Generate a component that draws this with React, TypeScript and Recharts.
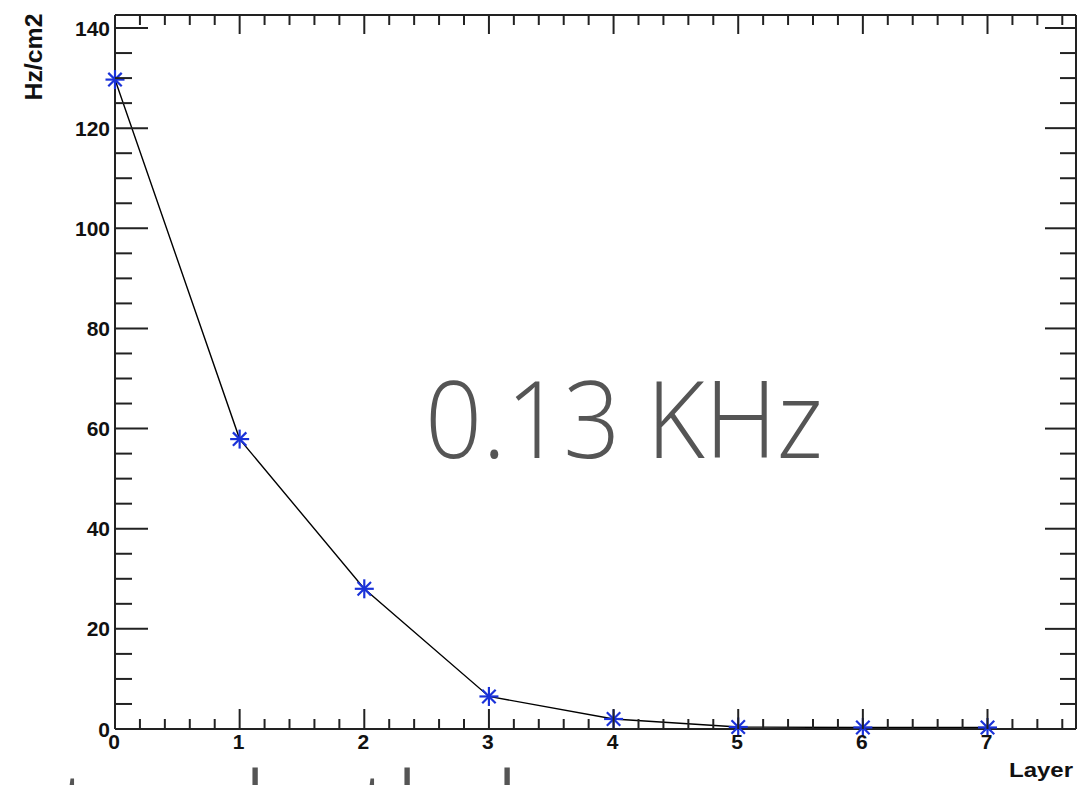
import React from 'react';
import { LineChart, Line, XAxis, YAxis } from 'recharts';

const layers = [0, 1, 2, 3, 4, 5, 6, 7];
const rates = [129.7, 57.9, 28.0, 6.5, 2.0, 0.4, 0.3, 0.3];
const xTickLabels = ['0', '1', '2', '3', '4', '5', '6', '7'];
const yTickLabels = ['0', '20', '40', '60', '80', '100', '120', '140'];
const xMax = 7.71;
const yMax = 142.6;

const data = layers.map((l, i) => ({ layer: l, rate: rates[i] }));

const xTicks: number[] = [];
for (let i = 0; i * 0.2 <= xMax; i++) xTicks.push(Math.round(i * 2) / 10);
const yTicks: number[] = [];
for (let v = 0; v <= 140; v += 5) yTicks.push(v);

const LABEL_FONT = '"Liberation Sans", Arial, Helvetica, sans-serif';
const FRAME = '#222';

const isMajorX = (v: number) => Math.abs(v - Math.round(v)) < 1e-6;
const isMajorY = (v: number) => v % 20 === 0;

const BottomTick = (props: any) => {
  const { x, y, payload } = props;
  const v = payload.value;
  const major = isMajorX(v);
  return (
    <g>
      <line x1={x} x2={x} y1={y} y2={y - (major ? 20 : 10)} stroke={FRAME} strokeWidth={2} />
      {major && (
        <text x={x - 1} y={y + 20} textAnchor="middle" fontFamily={LABEL_FONT} fontWeight="bold" fontSize={21} fill="#111">
          {xTickLabels[Math.round(v)]}
        </text>
      )}
    </g>
  );
};

const TopTick = (props: any) => {
  const { x, y, payload } = props;
  const major = isMajorX(payload.value);
  return <line x1={x} x2={x} y1={y} y2={y + (major ? 19 : 10)} stroke={FRAME} strokeWidth={2} />;
};

const LeftTick = (props: any) => {
  const { x, y, payload } = props;
  const v = payload.value;
  const major = isMajorY(v);
  return (
    <g>
      <line x1={x} x2={x + (major ? 33 : 17)} y1={y} y2={y} stroke={FRAME} strokeWidth={2} />
      {major && (
        <text x={x - 5} y={y + 7.5} textAnchor="end" fontFamily={LABEL_FONT} fontWeight="bold" fontSize={21} fill="#111">
          {yTickLabels[v / 20]}
        </text>
      )}
    </g>
  );
};

const RightTick = (props: any) => {
  const { x, y, payload } = props;
  const major = isMajorY(payload.value);
  return <line x1={x} x2={x - (major ? 31 : 16)} y1={y} y2={y} stroke={FRAME} strokeWidth={2} />;
};

const Star = (props: any) => {
  const { cx, cy } = props;
  if (cx == null || cy == null) return null;
  const r = 9.5;
  const d = r * 0.707;
  return (
    <g stroke="#1a32d9" strokeWidth={2.2}>
      <line x1={cx - r} x2={cx + r} y1={cy} y2={cy} />
      <line x1={cx} x2={cx} y1={cy - r} y2={cy + r} />
      <line x1={cx - d} x2={cx + d} y1={cy - d} y2={cy + d} />
      <line x1={cx - d} x2={cx + d} y1={cy + d} y2={cy - d} />
    </g>
  );
};

const BIG_FONT = '"Open Sans", Lato, sans-serif';

export default function App() {
  return (
    <div style={{ position: 'absolute', left: 0, top: 0, width: 1083, height: 785, overflow: 'hidden', background: '#fff' }}>
      <LineChart width={1083} height={785} data={data} margin={{ top: 14, right: 6, bottom: 55, left: 114 }}>
        <XAxis
          xAxisId="b"
          dataKey="layer"
          type="number"
          domain={[0, xMax]}
          ticks={xTicks}
          interval={0}
          height={1}
          tickSize={0}
          tickMargin={0}
          tickLine={false}
          tick={<BottomTick />}
          axisLine={{ stroke: FRAME, strokeWidth: 2 }}
        />
        <XAxis
          xAxisId="t"
          orientation="top"
          dataKey="layer"
          type="number"
          domain={[0, xMax]}
          ticks={xTicks}
          interval={0}
          height={1}
          tickSize={0}
          tickMargin={0}
          tickLine={false}
          tick={<TopTick />}
          axisLine={{ stroke: FRAME, strokeWidth: 2 }}
        />
        <YAxis
          yAxisId="l"
          type="number"
          domain={[0, yMax]}
          ticks={yTicks}
          interval={0}
          width={1}
          tickSize={0}
          tickMargin={0}
          tickLine={false}
          tick={<LeftTick />}
          axisLine={{ stroke: FRAME, strokeWidth: 2 }}
        />
        <YAxis
          yAxisId="r"
          orientation="right"
          type="number"
          domain={[0, yMax]}
          ticks={yTicks}
          interval={0}
          width={1}
          tickSize={0}
          tickMargin={0}
          tickLine={false}
          tick={<RightTick />}
          axisLine={{ stroke: FRAME, strokeWidth: 2 }}
        />
        <Line
          xAxisId="t"
          yAxisId="r"
          dataKey="rate"
          stroke="none"
          dot={false}
          activeDot={false}
          isAnimationActive={false}
          legendType="none"
        />
        <Line
          xAxisId="b"
          yAxisId="l"
          type="linear"
          dataKey="rate"
          stroke="#000"
          strokeWidth={1.4}
          dot={<Star />}
          activeDot={false}
          isAnimationActive={false}
        />
      </LineChart>
      <svg width={1083} height={785} style={{ position: 'absolute', left: 0, top: 0, pointerEvents: 'none' }}>
        <text
          x={42}
          y={57}
          transform="rotate(-90 42 57)"
          textAnchor="middle"
          fontFamily={LABEL_FONT}
          fontWeight="bold"
          fontSize={23}
          fill="#111"
          textLength={87}
          lengthAdjust="spacingAndGlyphs"
        >
          Hz/cm2
        </text>
        <text
          x={1073}
          y={777}
          textAnchor="end"
          fontFamily={LABEL_FONT}
          fontWeight="bold"
          fontSize={20}
          fill="#111"
          textLength={64}
          lengthAdjust="spacingAndGlyphs"
        >
          Layer
        </text>
        <text
          x={425}
          y={458}
          fontFamily={BIG_FONT}
          fontWeight={300}
          fontSize={107}
          fill="#555"
          textLength={398}
          lengthAdjust="spacingAndGlyphs"
        >
          0.13 KHz
        </text>
        <g fontFamily={BIG_FONT} fontWeight={300} fontSize={107} fill="#555" textAnchor="middle">
          <text x={77} y={849}>t</text>
          <text x={255} y={849}>l</text>
          <text x={377} y={849}>t</text>
          <text x={407} y={849}>l</text>
          <text x={507} y={849}>l</text>
        </g>
      </svg>
    </div>
  );
}
